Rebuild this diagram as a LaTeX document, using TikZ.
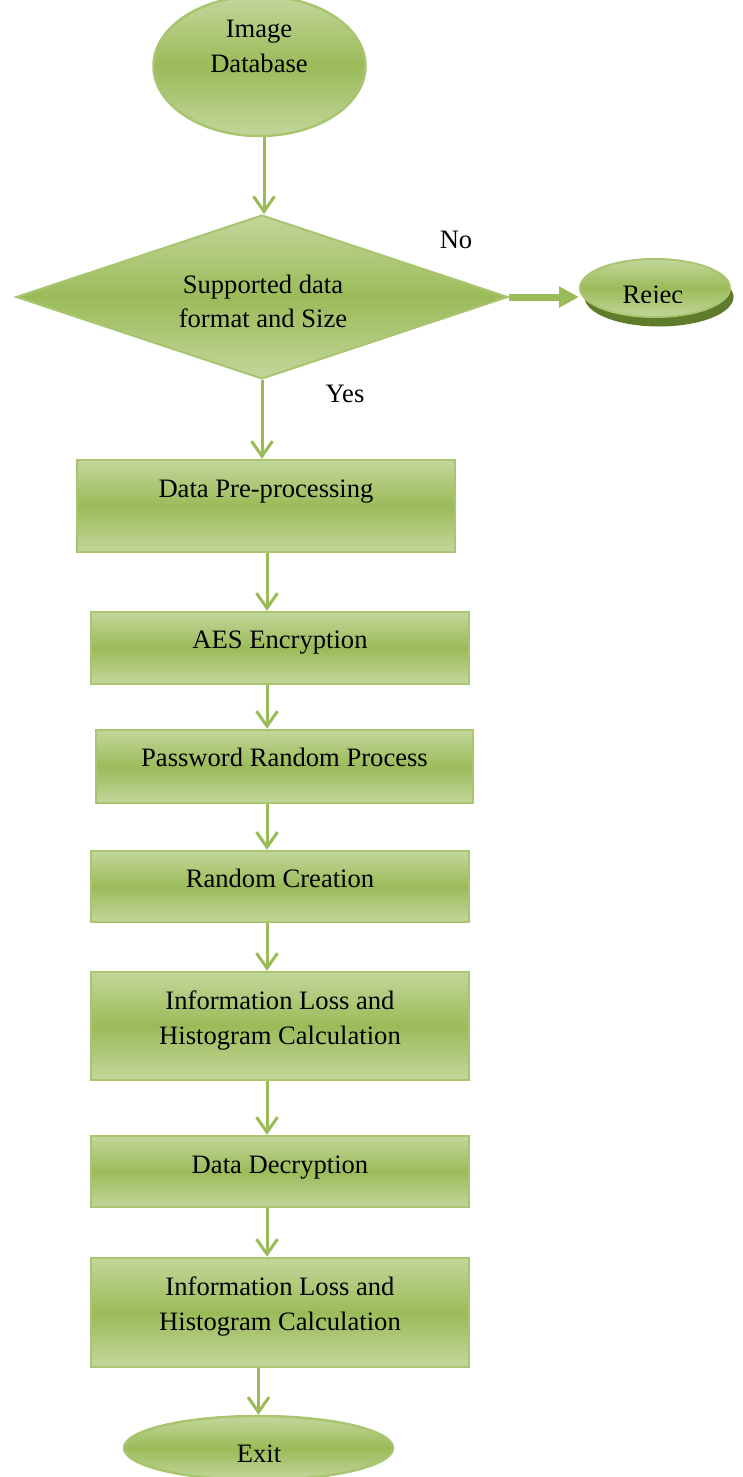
\documentclass[tikz,border=0pt]{standalone}
\usepackage{fontspec}
\setmainfont{Liberation Serif}
\usetikzlibrary{shapes.geometric,arrows.meta,calc}
\definecolor{lg}{HTML}{C3D69B}
\definecolor{mg}{HTML}{9BBB59}
\definecolor{bg}{HTML}{A9C570}
\definecolor{sg}{HTML}{5F7B2C}
\begin{document}
\begin{tikzpicture}[x=1pt,y=-1pt,
 gfill/.style={top color=lg,bottom color=lg,middle color=mg},
 box/.style={rectangle,draw=bg,line width=2.5pt,gfill,inner sep=0pt,minimum width=377pt},
 oval/.style={ellipse,draw=bg,line width=2.5pt,gfill,inner sep=0pt},
 txt/.style={inner sep=0pt,anchor=base,font=\fontsize{26.6pt}{35pt}\selectfont},
 arr/.style={draw=mg,line width=3pt,-{Straight Barb[length=15pt,width=21pt]}}
]
\useasboundingbox (0,0) rectangle (742,1477);
\coordinate (ac) at (267,0);
\coordinate (ad) at (264,0);
% top ellipse
\node[oval,minimum width=212pt,minimum height=140pt] (db) at (259.5,66) {};
\node[txt] (tdb1) at (259,38) {Image};
\node[txt] (tdb2) at (259,73) {Database};
% decision
\node[diamond,draw=bg,line width=2pt,gfill,inner sep=0pt,minimum width=492pt,minimum height=164pt] (dec) at (262,297) {};
\node[txt] (td1) at (263,293) {Supported data};
\node[txt] (td2) at (263,327) {format and Size};
\node[txt] (tno) at (456,248) {No};
\node[txt] (tyes) at (345,402) {Yes};
% reject
\node[ellipse,fill=sg,inner sep=0pt,minimum width=149pt,minimum height=59pt] (rejs) at (659,297) {};
\node[oval,line width=2pt,minimum width=150pt,minimum height=58pt] (rej) at (655,288) {};
\begin{scope}
\clip (575,250) rectangle (735,302);
\node[txt] (trej) at (653,303) {Rejec};
\end{scope}
% boxes
\node[box,minimum width=378pt,minimum height=92pt] (b1) at (266,506) {};
\node[txt] (tb1) at (266,497) {Data Pre-processing};
\node[box,minimum width=378pt,minimum height=72pt] (b2) at (280,648) {};
\node[txt] (tb2) at (280,648) {AES Encryption};
\node[box,minimum width=377pt,minimum height=73pt] (b3) at (284.5,766.5) {};
\node[txt] (tb3) at (284.5,766) {Password Random Process};
\node[box,minimum width=378pt,minimum height=71pt] (b4) at (280,886.5) {};
\node[txt] (tb4) at (280,887) {Random Creation};
\node[box,minimum width=378pt,minimum height=108pt] (b5) at (280,1026) {};
\node[txt] (tb5a) at (280,1009) {Information Loss and};
\node[txt] (tb5b) at (280,1044) {Histogram Calculation};
\node[box,minimum width=378pt,minimum height=71pt] (b6) at (280,1171.5) {};
\node[txt] (tb6) at (280,1173) {Data Decryption};
\node[box,minimum width=378pt,minimum height=109pt] (b7) at (280,1312.5) {};
\node[txt] (tb7a) at (280,1295) {Information Loss and};
\node[txt] (tb7b) at (280,1330) {Histogram Calculation};
% exit
\node[oval,minimum width=269pt,minimum height=64pt] (ex) at (258.5,1448) {};
\begin{scope}
\clip (120,1400) rectangle (400,1461);
\node[txt] (tex) at (259,1462) {Exit};
\end{scope}
% connectors
\draw[arr] (db.south -| ad) -- (dec.north -| ad);
\draw[draw=mg,line width=7pt,-{Triangle[length=20pt,width=20pt]}] (dec.east) -- (rej.west |- dec.east);
\draw[arr] (dec.south) -- (dec.south |- b1.north);
\draw[arr] (b1.south -| ac) -- (b2.north -| ac);
\draw[arr] (b2.south -| ac) -- (b3.north -| ac);
\draw[arr] (b3.south -| ac) -- (b4.north -| ac);
\draw[arr] (b4.south -| ac) -- (b5.north -| ac);
\draw[arr] (b5.south -| ac) -- (b6.north -| ac);
\draw[arr] (b6.south -| ac) -- (b7.north -| ac);
\draw[arr] (b7.south -| ex) -- (ex.north);
\end{tikzpicture}
\end{document}
